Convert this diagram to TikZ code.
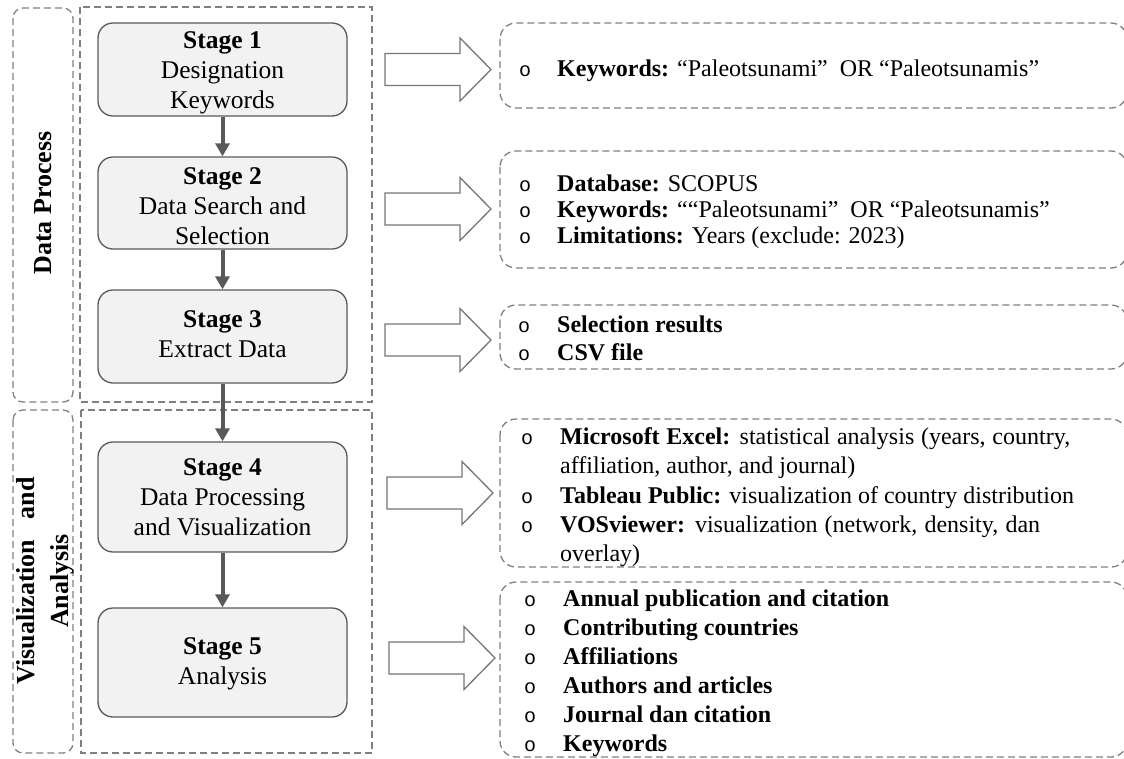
\documentclass[tikz,border=0pt]{standalone}
\usepackage{fontspec}
\setmainfont{Liberation Serif}
\newfontfamily\bulletfont{Liberation Mono}
\usetikzlibrary{arrows.meta}
\definecolor{dashgray}{HTML}{808080}
\definecolor{boxborder}{HTML}{595959}
\definecolor{boxfill}{HTML}{F2F2F2}
\definecolor{arrowgray}{HTML}{595959}
\definecolor{bigarrowgray}{HTML}{767676}
\begin{document}
\begin{tikzpicture}[x=1pt,y=-1pt,
  dashbox/.style={draw=dashgray, line width=1.3pt, dash pattern=on 7pt off 4pt},
  stagebox/.style={draw=boxborder, fill=boxfill, line width=1.3pt, rounded corners=15pt,
    minimum width=249pt, inner sep=0pt},
  stagetext/.style={align=center, inner sep=0pt, font=\fontsize{25.5}{30}\selectfont},
  flow/.style={draw=arrowgray, line width=4pt, -{Triangle[width=14pt,length=13pt]}},
  item/.style={anchor=base west, inner sep=0pt, font=\fontsize{24}{29}\selectfont},
  bul/.style={anchor=base west, inner sep=0pt, font=\fontsize{20}{29}\bulletfont},
  sidelabel/.style={rotate=90, align=center, inner sep=0pt},
  pics/bigarrow/.style={code={\draw[draw=bigarrowgray, line width=1.3pt, fill=white]
    (0,-16)--(75,-16)--(75,-31.5)--(106,0)--(75,31.5)--(75,16)--(0,16)--cycle;}}
]
\useasboundingbox (0,0) rectangle (1124,758);
\clip (0,0) rectangle (1124,758);

% left group frames
\draw[dashbox, rounded corners=10pt] (13,8) rectangle (73,402);
\draw[dashbox, rounded corners=10pt] (13,410) rectangle (73,753);
\draw[dashbox] (80,7) rectangle (372,402);
\draw[dashbox] (81,410) rectangle (372,753);

\node[sidelabel, font=\bfseries\fontsize{26}{30}\selectfont] (dp) at (43,203) {Data Process};
\node[sidelabel, font=\bfseries\fontsize{26}{34}\selectfont] (va) at (45,581)
  {\makebox[207pt][s]{Visualization and}\\Analysis};

% stages
\node[stagebox, minimum height=93pt] (s1) at (222.5,69.5) {};
\node[stagetext] (s1t) at (222.5,73) {\textbf{Stage 1}\\Designation\\Keywords};
\node[stagebox, minimum height=92pt] (s2) at (222.5,203) {};
\node[stagetext] (s2t) at (222.5,206) {\textbf{Stage 2}\\Data Search and\\Selection};
\node[stagebox, minimum height=93pt] (s3) at (222.5,336.5) {};
\node[stagetext] (s3t) at (222.5,334.5) {\textbf{Stage 3}\\Extract Data};
\node[stagebox, minimum height=110pt] (s4) at (222.5,497) {};
\node[stagetext] (s4t) at (222.5,497.5) {\textbf{Stage 4}\\Data Processing\\and Visualization};
\node[stagebox, minimum height=109pt] (s5) at (222.5,662.5) {};
\node[stagetext] (s5t) at (222.5,664) {\textbf{Stage 5}\\Analysis};

\draw[flow] (s1) -- (s2);
\draw[flow] (s2) -- (s3);
\draw[flow] (s3) -- (s4);
\draw[flow] (s4) -- (s5);

% block arrows
\pic at (385,69.5) {bigarrow};
\pic at (385,209) {bigarrow};
\pic at (385,340) {bigarrow};
\pic at (387,493) {bigarrow};
\pic at (389,658) {bigarrow};

% right boxes
\draw[dashbox, rounded corners=16pt] (500,23) rectangle (1127,108);
\draw[dashbox, rounded corners=16pt] (500,151) rectangle (1127,268);
\draw[dashbox, rounded corners=16pt] (500,305) rectangle (1127,369);
\draw[dashbox, rounded corners=16pt] (500,419) rectangle (1127,567);
\draw[dashbox, rounded corners=16pt] (500,582) rectangle (1127,757);

% box 1
\node[bul] (b1a) at (519,76) {o};
\node[item] (t1a) at (557,76) {\textbf{Keywords:} “Paleotsunami”\ \ OR “Paleotsunamis”};

% box 2
\node[bul] (b2a) at (519,191) {o};
\node[item] (t2a) at (557,191) {\textbf{Database:} SCOPUS};
\node[bul] (b2b) at (519,217) {o};
\node[item] (t2b) at (557,217) {\textbf{Keywords:} ““Paleotsunami”\ \ OR “Paleotsunamis”};
\node[bul] (b2c) at (519,243) {o};
\node[item] (t2c) at (557,243) {\textbf{Limitations:} Years (exclude: 2023)};

% box 3
\node[bul] (b3a) at (518,332) {o};
\node[item] (t3a) at (557,332) {\textbf{Selection results}};
\node[bul] (b3b) at (518,360) {o};
\node[item] (t3b) at (557,360) {\textbf{CSV file}};

% box 4
\node[bul] (b4a) at (521,444) {o};
\node[item] (t4a) at (560,444) {\makebox[510pt][s]{\textbf{Microsoft Excel:} statistical analysis (years, country,}};
\node[item] (t4b) at (560,473) {affiliation, author, and journal)};
\node[bul] (b4c) at (521,503) {o};
\node[item] (t4c) at (560,503) {\textbf{Tableau Public:} visualization of country distribution};
\node[bul] (b4d) at (521,532) {o};
\node[item] (t4d) at (560,532) {\makebox[480pt][s]{\textbf{VOSviewer:} visualization (network, density, dan}};
\node[item] (t4e) at (560,561) {overlay)};

% box 5
\node[bul] (b5a) at (524,606) {o};
\node[item] (t5a) at (563,606) {\textbf{Annual publication and citation}};
\node[bul] (b5b) at (524,635) {o};
\node[item] (t5b) at (563,635) {\textbf{Contributing countries}};
\node[bul] (b5c) at (524,664) {o};
\node[item] (t5c) at (563,664) {\textbf{Affiliations}};
\node[bul] (b5d) at (524,693) {o};
\node[item] (t5d) at (563,693) {\textbf{Authors and articles}};
\node[bul] (b5e) at (524,722) {o};
\node[item] (t5e) at (563,722) {\textbf{Journal dan citation}};
\node[bul] (b5f) at (524,751) {o};
\node[item] (t5f) at (563,751) {\textbf{Keywords}};
\end{tikzpicture}
\end{document}
